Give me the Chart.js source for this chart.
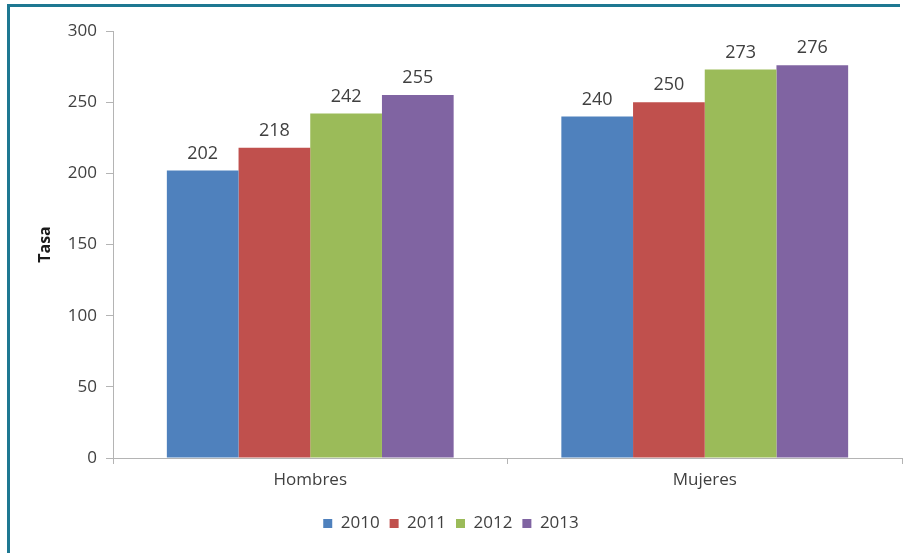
<!DOCTYPE html>
<html>
<head>
<meta charset="utf-8">
<script src="https://cdn.jsdelivr.net/npm/chart.js@4/dist/chart.umd.min.js"></script>
<style>
  html, body { margin: 0; padding: 0; background: #ffffff; }
  #wrap { position: relative; width: 909px; height: 553px; overflow: hidden; }
  #frame { position: absolute; left: 7px; top: 4px; width: 893px; height: 560px;
           border-left: 3px solid #1e7892; border-top: 3px solid #1e7892; box-sizing: border-box; }
  #c { position: absolute; left: 0; top: 0; }
</style>
</head>
<body>
<div id="wrap">
  <div id="frame"></div>
  <canvas id="c" width="909" height="553"></canvas>
</div>
<script>
const categories = ["Hombres", "Mujeres"];
const seriesNames = ["2010", "2011", "2012", "2013"];
const values2010 = [202, 240];
const values2011 = [218, 250];
const values2012 = [242, 273];
const values2013 = [255, 276];
const seriesColors = ["#4f81bd", "#c0504d", "#9bbb59", "#8064a2"];
const yTitle = "Tasa";

const allValues = [values2010, values2011, values2012, values2013];
const FONT = "'Open Sans', 'Liberation Sans', sans-serif";
const TEXT = "#404040";
const AXIS = "#b4b4b4";

const valueLabels = {
  id: "valueLabels",
  afterDatasetsDraw(chart) {
    const ctx = chart.ctx;
    ctx.save();
    ctx.font = "18px " + FONT;
    ctx.fillStyle = TEXT;
    ctx.textAlign = "center";
    ctx.textBaseline = "bottom";
    chart.data.datasets.forEach((ds, i) => {
      const meta = chart.getDatasetMeta(i);
      meta.data.forEach((el, j) => {
        ctx.fillText(String(ds.data[j]), el.x, el.y - 8);
      });
    });
    ctx.restore();
  }
};

new Chart(document.getElementById("c"), {
  type: "bar",
  data: {
    labels: categories,
    datasets: seriesNames.map((n, i) => ({
      label: n,
      data: allValues[i],
      backgroundColor: seriesColors[i],
      borderWidth: 0,
      categoryPercentage: 0.727,
      barPercentage: 1.0
    }))
  },
  options: {
    responsive: false,
    animation: false,
    devicePixelRatio: 1,
    layout: { padding: { left: 0, right: 7, top: 31, bottom: 11 } },
    plugins: {
      legend: {
        position: "bottom",
        labels: {
          boxWidth: 9, boxHeight: 9, padding: 10,
          color: TEXT,
          font: { family: FONT, size: 17 }
        }
      },
      tooltip: { enabled: false }
    },
    scales: {
      x: {
        afterFit(s) { s.height = 47; },
        grid: { display: true, drawOnChartArea: false, drawTicks: true, tickLength: 6, color: AXIS },
        border: { display: true, color: AXIS, width: 1 },
        ticks: { color: TEXT, font: { family: FONT, size: 17 }, padding: 6 }
      },
      y: {
        min: 0, max: 300,
        afterFit(s) { s.width = 113; },
        grid: { display: true, drawOnChartArea: false, drawTicks: true, tickLength: 7, color: AXIS },
        border: { display: true, color: AXIS, width: 1 },
        ticks: { stepSize: 50, color: TEXT, font: { family: FONT, size: 17 }, padding: 9 },
        title: {
          display: true, text: yTitle, color: "#1a1a1a",
          font: { family: FONT, size: 16, weight: "bold" },
          padding: { top: 36, bottom: 0 }
        }
      }
    }
  },
  plugins: [valueLabels]
});
</script>
</body>
</html>
